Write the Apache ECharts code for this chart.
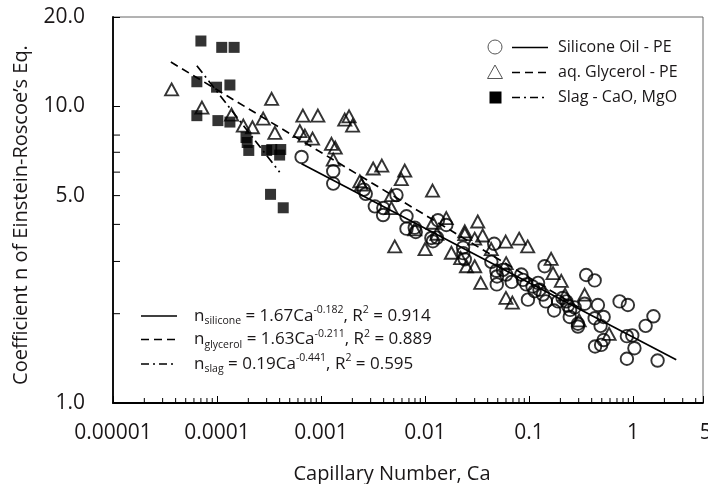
<!DOCTYPE html>
<html><head><meta charset="utf-8">
<script src="https://cdn.jsdelivr.net/npm/echarts@6/dist/echarts.min.js"></script>
<style>html,body{margin:0;padding:0;background:#fff}#c{width:708px;height:484px}</style>
</head><body><div id="c"></div>
<script>
// ---- data (Ca, n) ----
const siliconeOil = [
[6.5e-4,6.75],[1.31e-3,6.04],[1.31e-3,5.49],[2.58e-3,5.24],[2.69e-3,5.07],[3.29e-3,4.60],[3.97e-3,4.54],[3.95e-3,4.30],[5.31e-3,5.02],[6.63e-3,4.26],[6.63e-3,3.87],[7.96e-3,3.90],[8.14e-3,3.77],[1.15e-2,3.60],[1.30e-2,3.61],[1.33e-2,4.13],[1.60e-2,3.98],[1.19e-2,3.51],[2.32e-2,3.34],[2.33e-2,3.20],[2.41e-2,3.05],[4.62e-2,3.44],[4.34e-2,2.99],[4.85e-2,2.79],[5.61e-2,2.81],[4.92e-2,2.67],[4.89e-2,2.51],[6.02e-2,2.71],[6.81e-2,2.56],[8.43e-2,2.71],[8.74e-2,2.60],[9.42e-2,2.51],[9.75e-2,2.23],[0.108,2.47],[0.113,2.38],[0.122,2.54],[0.126,2.41],[0.136,2.32],[0.141,2.89],[0.145,2.20],[0.174,2.05],[0.190,2.20],[0.210,2.26],[0.228,2.20],[0.236,2.13],[0.248,2.06],[0.246,1.95],[0.274,2.10],[0.295,1.85],[0.295,1.81],[0.342,2.16],[0.354,2.70],[0.427,2.59],[0.459,2.14],[0.427,1.93],[0.521,1.95],[0.487,1.82],[0.521,1.63],[0.431,1.55],[0.493,1.57],[0.742,2.20],[0.891,2.14],[0.872,1.68],[0.982,1.69],[1.03,1.53],[0.872,1.41],[1.32,1.82],[1.57,1.96],[1.72,1.39]
];
const aqGlycerol = [
[3.66e-5,11.4],[7.16e-5,9.9],[3.35e-4,10.6],[1.38e-4,9.38],[1.79e-4,8.61],[2.19e-4,8.50],[2.78e-4,9.09],[3.60e-4,8.14],[6.69e-4,9.30],[9.32e-4,9.30],[6.26e-4,8.25],[6.99e-4,7.97],[8.29e-4,7.78],[1.26e-3,7.47],[1.37e-3,7.26],[1.31e-3,6.61],[1.69e-3,9.02],[1.86e-3,9.25],[2.01e-3,8.61],[2.36e-3,5.59],[2.45e-3,5.45],[3.17e-3,6.17],[3.84e-3,6.31],[4.75e-3,5.02],[4.75e-3,4.54],[5.91e-3,5.68],[6.38e-3,6.07],[1.18e-2,5.20],[5.11e-3,3.37],[1.0e-2,3.30],[7.96e-3,3.85],[1.19e-2,4.05],[1.30e-2,3.72],[1.60e-2,4.20],[3.21e-2,4.09],[2.41e-2,3.79],[2.41e-2,3.71],[3.0e-2,3.58],[3.58e-2,3.67],[5.96e-2,3.50],[8.03e-2,3.58],[9.70e-2,3.37],[1.79e-2,3.21],[2.20e-2,3.08],[2.50e-2,2.89],[3.0e-2,2.89],[4.33e-2,3.30],[6.02e-2,2.96],[3.43e-2,2.54],[5.99e-2,2.26],[6.91e-2,2.18],[0.163,3.06],[0.170,2.74],[0.204,2.58],[0.222,2.32],[0.342,2.32],[0.303,1.90],[0.588,1.71]
];
const slagCaOMgO = [
[7.0e-5,16.6],[1.11e-4,15.8],[1.46e-4,15.8],[6.4e-5,12.1],[9.9e-5,11.6],[1.33e-4,11.8],[6.4e-5,9.3],[1.02e-4,8.95],[1.33e-4,8.85],[1.9e-4,7.85],[1.95e-4,7.55],[2.02e-4,7.1],[3.0e-4,7.1],[3.36e-4,7.15],[4.1e-4,7.15],[4.0e-4,6.85],[3.27e-4,5.05],[4.33e-4,4.55]
];
// fitted power-law lines: end points
const siliconeFit = [[6.5e-4,6.4],[2.6,1.40]];
const glycerolFit = [[3.6e-5,14.1],[0.3,2.1]];
const slagFit = [[6.4e-5,13.7],[4.0e-4,6.0]];
// axes
const xTickLabels = ['0.00001','0.0001','0.001','0.01','0.1','1','5'];
const yTickLabels = ['1.0','5.0','10.0','20.0'];
const yMinorTicks = [2,3,4,5,6,7,8];
const X_MIN = 1e-5, X_MAX = 4.7, Y_MIN = 1, Y_MAX = 20;

const FONT = '"Open Sans", "Noto Sans", sans-serif';
const TXT = '#1a1718';
const LBL_SIZE = 21, X_MARGIN = 20, Y_MARGIN = 28;

const xMinorTicks = [];
for (let d = -5; d <= 0; d++) for (let k = 2; k <= 9; k++) { const v = k * Math.pow(10, d); if (v < X_MAX) xMinorTicks.push(+v.toPrecision(3)); }

function isDecade(v){ const l = Math.log10(v); return Math.abs(l - Math.round(l)) < 1e-9; }
const xVals = xTickLabels.map(Number), yVals = yTickLabels.map(Number);
function findLabel(vals, labels, v){ for (let i=0;i<vals.length;i++) if (Math.abs(vals[i]-v) <= 1e-6*Math.abs(vals[i])) return labels[i]; return ''; }
const xExtra = xTickLabels.filter((s,i)=>!isDecade(xVals[i]));
const yExtra = yTickLabels.filter((s,i)=>!isDecade(yVals[i]) && yVals[i] !== Y_MAX);

const chart = echarts.init(document.getElementById('c'), null, {renderer:'canvas'});
const dashLine = [8,5], dashDot = [9,4,2,4];

const option = {
  animation:false,
  textStyle:{fontFamily:FONT},
  grid:{left:113, right:5, top:17, bottom:81, show:true, borderColor:'#666', borderWidth:1, containLabel:false, outerBoundsMode:'none'},
  xAxis:{type:'log', logBase:10, min:X_MIN, max:X_MAX,
    axisLine:{lineStyle:{color:'#000', width:1.8}},
    axisTick:{inside:true, length:7, lineStyle:{color:'#000', width:1}},
    axisLabel:{interval:0, showMaxLabel:true, showMinLabel:true, margin:X_MARGIN, fontSize:LBL_SIZE, color:TXT, fontFamily:FONT,
      formatter:v=>findLabel(xVals, xTickLabels, v)},
    splitLine:{show:false}, minorTick:{show:false}},
  yAxis:{type:'log', logBase:10, min:Y_MIN, max:Y_MAX,
    axisLine:{lineStyle:{color:'#000', width:1.8}},
    axisTick:{inside:true, length:7, lineStyle:{color:'#000', width:1}},
    axisLabel:{showMaxLabel:true, showMinLabel:true, margin:Y_MARGIN, fontSize:LBL_SIZE, color:TXT, fontFamily:FONT,
      formatter:v=>findLabel(yVals, yTickLabels, v)},
    splitLine:{show:false}},
  series:[
    {name:'Silicone Oil - PE', type:'scatter', data:siliconeOil, symbol:'circle', symbolSize:12.5,
      itemStyle:{color:'rgba(255,255,255,0)', borderColor:'#000', borderWidth:1.9}, emphasis:{disabled:true}, z:3},
    {name:'aq. Glycerol - PE', type:'scatter', data:aqGlycerol, symbol:'triangle', symbolSize:[13,12],
      itemStyle:{color:'rgba(255,255,255,0)', borderColor:'#000', borderWidth:1.9}, emphasis:{disabled:true}, z:3},
    {name:'Slag - CaO, MgO', type:'scatter', data:slagCaOMgO, symbol:'rect', symbolSize:11,
      itemStyle:{color:'#000'}, emphasis:{disabled:true}, z:3},
    {name:'silicone fit', type:'line', data:siliconeFit, showSymbol:false, lineStyle:{color:'#000', width:1.7, type:'solid'}, z:4, silent:true},
    {name:'glycerol fit', type:'line', data:glycerolFit, showSymbol:false, lineStyle:{color:'#000', width:1.7, type:dashLine}, z:4, silent:true},
    {name:'slag fit', type:'line', data:slagFit, showSymbol:false, lineStyle:{color:'#000', width:1.7, type:dashDot}, z:4, silent:true},
    {type:'custom', coordinateSystem:'cartesian2d', silent:true, z:5, clip:false,
      data:xMinorTicks.map(v=>[v, Y_MIN]), encode:{x:0,y:1},
      renderItem:(params, api)=>{ const p = api.coord([api.value(0), api.value(1)]);
        return {type:'line', shape:{x1:p[0], y1:p[1], x2:p[0], y2:p[1]-5}, style:{stroke:'#000', lineWidth:1}}; }},
    {type:'custom', coordinateSystem:'cartesian2d', silent:true, z:5, clip:false,
      data:yMinorTicks.map(v=>[X_MIN, v]), encode:{x:0,y:1},
      renderItem:(params, api)=>{ const p = api.coord([api.value(0), api.value(1)]);
        return {type:'line', shape:{x1:p[0], y1:p[1], x2:p[0]+7, y2:p[1]}, style:{stroke:'#000', lineWidth:1}}; }},
    {type:'custom', coordinateSystem:'cartesian2d', silent:true, z:5, clip:false,
      data:xExtra.map(s=>[Number(s), Y_MIN]), encode:{x:0,y:1},
      renderItem:(params, api)=>{ const p = api.coord([api.value(0), api.value(1)]);
        return {type:'text', x:p[0], y:p[1]+X_MARGIN, style:{text:xExtra[params.dataIndex], fill:TXT, font:LBL_SIZE+'px '+FONT, align:'center', verticalAlign:'top'}}; }},
    {type:'custom', coordinateSystem:'cartesian2d', silent:true, z:5, clip:false,
      data:yExtra.map(s=>[X_MIN, Number(s)]), encode:{x:0,y:1},
      renderItem:(params, api)=>{ const p = api.coord([api.value(0), api.value(1)]);
        return {type:'text', x:p[0]-Y_MARGIN, y:p[1], style:{text:yExtra[params.dataIndex], fill:TXT, font:LBL_SIZE+'px '+FONT, align:'right', verticalAlign:'middle'}}; }}
  ],
  graphic:[
    // axis titles
    {type:'text', x:392, y:474, style:{text:'Capillary Number, Ca', font:'20px '+FONT, fill:TXT, align:'center', verticalAlign:'middle'}},
    {type:'text', x:21, y:215, rotation:Math.PI/2, style:{text:'Coefficient n of Einstein-Roscoe\u2019s Eq.', font:'20px '+FONT, fill:TXT, align:'center', verticalAlign:'middle'}},
    // top-right legend
    {type:'circle', shape:{cx:495, cy:47, r:7}, style:{fill:'#fff', stroke:'#555', lineWidth:1}},
    {type:'polygon', shape:{points:[[487.5,78.5],[502.5,78.5],[495,65]]}, style:{fill:'#fff', stroke:'#555', lineWidth:1}},
    {type:'rect', shape:{x:489.5, y:91.5, width:12, height:12}, style:{fill:'#000'}},
    {type:'line', shape:{x1:512, y1:47.5, x2:548, y2:47.5}, style:{stroke:'#000', lineWidth:1.5}},
    {type:'line', shape:{x1:512, y1:72.5, x2:548, y2:72.5}, style:{stroke:'#000', lineWidth:1.5, lineDash:[8,5]}},
    {type:'line', shape:{x1:512, y1:97.5, x2:548, y2:97.5}, style:{stroke:'#000', lineWidth:1.5, lineDash:[8,4,2,4]}},
    {type:'text', x:558, y:47.5, style:{text:'Silicone Oil - PE', font:'16px '+FONT, fill:TXT, verticalAlign:'middle'}},
    {type:'text', x:558, y:72.5, style:{text:'aq. Glycerol - PE', font:'16px '+FONT, fill:TXT, verticalAlign:'middle'}},
    {type:'text', x:558, y:97.5, style:{text:'Slag - CaO, MgO', font:'16px '+FONT, fill:TXT, verticalAlign:'middle'}},
    // fit legend
    {type:'line', shape:{x1:141, y1:316, x2:177, y2:316}, style:{stroke:'#000', lineWidth:1.5}},
    {type:'line', shape:{x1:141, y1:339.5, x2:177, y2:339.5}, style:{stroke:'#000', lineWidth:1.5, lineDash:[8,5]}},
    {type:'line', shape:{x1:141, y1:364, x2:177, y2:364}, style:{stroke:'#000', lineWidth:1.5, lineDash:[8,4,2,4]}},
    ...[['silicone','1.67','-0.182','0.914',316],['glycerol','1.63','-0.211','0.889',339.5],['slag','0.19','-0.441','0.595',364]].map(r=>({
      type:'text', x:194, y:r[4], style:{
        text:'{m|n}{sub|'+r[0]+'}{m| = '+r[1]+'Ca}{sup|'+r[2]+'}{m|, R}{sup|2}{m| = '+r[3]+'}',
        verticalAlign:'middle', fill:TXT,
        rich:{
          m:{fontSize:17, fontFamily:FONT, color:TXT, lineHeight:22},
          sub:{fontSize:10.5, fontFamily:FONT, color:TXT, lineHeight:10, verticalAlign:'bottom'},
          sup:{fontSize:10.5, fontFamily:FONT, color:TXT, lineHeight:10, verticalAlign:'top'}
        }}}))
  ]
};
chart.setOption(option);
</script></body></html>
